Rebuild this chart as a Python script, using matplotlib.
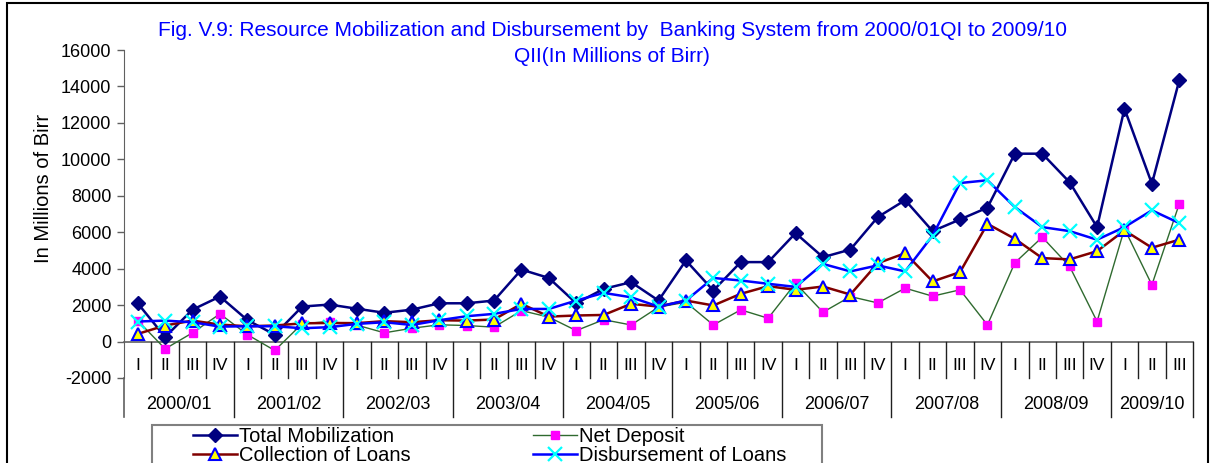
import numpy as np
import matplotlib
matplotlib.use('Agg')
import matplotlib.pyplot as plt
from matplotlib.patches import Rectangle

plt.rcParams['font.family'] = ['Liberation Sans', 'DejaVu Sans']
plt.rcParams['axes.unicode_minus'] = False

years = ['2000/01', '2001/02', '2002/03', '2003/04', '2004/05',
         '2005/06', '2006/07', '2007/08', '2008/09', '2009/10']
quarters = ['I', 'II', 'III', 'IV']
n_last = 3  # quarters available for 2009/10

total_mobilization = [2100, 250, 1750, 2470, 1180, 380, 1920, 2030,
                      1800, 1580, 1750, 2100, 2100, 2250, 3950, 3490,
                      2100, 2890, 3260, 2250, 4450, 2800, 4360, 4360,
                      5950, 4630, 5050, 6830, 7760, 6060, 6700, 7350,
                      10310, 10310, 8740, 6280, 12780, 8660, 14340]
net_deposit = [1150, -400, 480, 1520, 380, -490, 980, 1100,
               900, 480, 730, 920, 880, 790, 1700, 1340,
               600, 1200, 910, 1890, 2160, 910, 1740, 1280,
               3200, 1610, 2470, 2120, 2930, 2490, 2840, 910,
               4320, 5730, 4120, 1100, 6190, 3110, 7560]
collection_of_loans = [420, 880, 1150, 930, 840, 880, 1000, 1020,
                       1010, 1120, 1060, 1170, 1150, 1210, 2070, 1370,
                       1430, 1460, 2070, 1920, 2250, 1980, 2620, 3040,
                       2840, 3020, 2580, 4300, 4850, 3300, 3810, 6460,
                       5640, 4580, 4510, 4960, 6100, 5150, 5590]
disbursement_of_loans = [1100, 1150, 1060, 820, 840, 840, 730, 790,
                         970, 1060, 910, 1170, 1390, 1520, 1790, 1790,
                         2250, 2670, 2430, 1920, 2250, 3490, 3350, 3170,
                         3000, 4260, 3850, 4180, 3850, 5820, 8700, 8850,
                         7380, 6280, 6060, 5590, 6280, 7200, 6500]

q_labels = quarters * (len(years) - 1) + quarters[:n_last]
x = np.arange(len(q_labels))

W, H = 1212, 463
fig = plt.figure(figsize=(W / 100, H / 100), dpi=100)
ax = fig.add_axes([124 / W, 1 - 378 / H, (1193 - 124) / W, (378 - 50) / H])

l_tm, = ax.plot(x, total_mobilization, color='#000080', lw=1.8, marker='D', ms=7,
                mfc='#000080', mec='#000080', label='Total Mobilization', zorder=3)
l_nd, = ax.plot(x, net_deposit, color='#2f6a2f', lw=1.0, marker='s', ms=5.5,
                mfc='#ff00ff', mec='#ff00ff', label='Net Deposit', zorder=4)
l_cl, = ax.plot(x, collection_of_loans, color='#800000', lw=1.8, marker='^', ms=9,
                mfc='#ffff00', mec='#0000ff', mew=1.5, label='Collection of Loans', zorder=5)
l_dl, = ax.plot(x, disbursement_of_loans, color='#0000ff', lw=1.8, marker='x', ms=10,
                mec='#00ffff', mew=1.6, label='Disbursement of Loans', zorder=6)

ax.set_xlim(-0.5, len(x) - 0.5)
ax.set_ylim(-2000, 16000)
ax.set_yticks(np.arange(-2000, 16001, 2000))
ax.tick_params(axis='y', direction='out', length=5, width=1, colors='#606060',
               labelcolor='black', labelsize=13, pad=4)
ax.set_xticks([])
for s in ['top', 'right', 'bottom']:
    ax.spines[s].set_visible(False)
ax.spines['left'].set_color('#606060')
ax.spines['left'].set_bounds(-2000, 16000)
ax.set_ylabel('In Millions of Birr', fontsize=14.5)
ax.yaxis.set_label_coords(-(124 - 53) / (1193 - 124), (378 - 188) / (378 - 50))

# category axis at zero with two-level labels below
y_q = -2000
y_y = -4150
ax.plot([-0.5, len(x) - 0.5], [0, 0], color='#606060', lw=1.2, clip_on=False, zorder=2)
ax.plot([-0.5, -0.5], [-2000, y_y], color='#606060', lw=1.2, clip_on=False)
for i in range(len(x)):
    edge = i + 0.5
    bottom = y_y if (i + 1) % 4 == 0 or i == len(x) - 1 else y_q
    ax.plot([edge, edge], [0, bottom], color='#202020', lw=1.0, clip_on=False)
    ax.text(i, -1320, q_labels[i], ha='center', va='center', fontsize=12.5)
for k, yr in enumerate(years):
    start = 4 * k
    end = min(start + 4, len(x)) - 1
    ax.text((start + end) / 2, -3460, yr, ha='center', va='center', fontsize=13)

fig.text(612 / W, 1 - 30 / H,
         'Fig. V.9: Resource Mobilization and Disbursement by  Banking System from 2000/01QI to 2009/10',
         color='#0000ff', fontsize=15, ha='center', va='center')
fig.text(612 / W, 1 - 57 / H, 'QII(In Millions of Birr)',
         color='#0000ff', fontsize=15, ha='center', va='center')

# outer chart border and legend frame
fig.add_artist(Rectangle((7 / W, -0.1), (1208 - 7) / W, 1.1 - 3 / H,
                         transform=fig.transFigure, fill=False, ec='black', lw=1.5))
fig.add_artist(Rectangle((152 / W, -0.1), (822 - 152) / W, 0.1 + 1 - 425 / H,
                         transform=fig.transFigure, fill=False, ec='#808080', lw=1.5))
leg_kw = dict(loc='upper left', frameon=False, fontsize=14.5, handlelength=2.2,
              handletextpad=0.1, labelspacing=0.0, borderpad=0, borderaxespad=0)
fig.legend([l_tm, l_cl], ['Total Mobilization', 'Collection of Loans'],
           bbox_to_anchor=(193 / W, 1 - 427 / H), **leg_kw)
fig.legend([l_nd, l_dl], ['Net Deposit', 'Disbursement of Loans'],
           bbox_to_anchor=(533 / W, 1 - 427 / H), **leg_kw)

fig.savefig('out.png', dpi=100)
